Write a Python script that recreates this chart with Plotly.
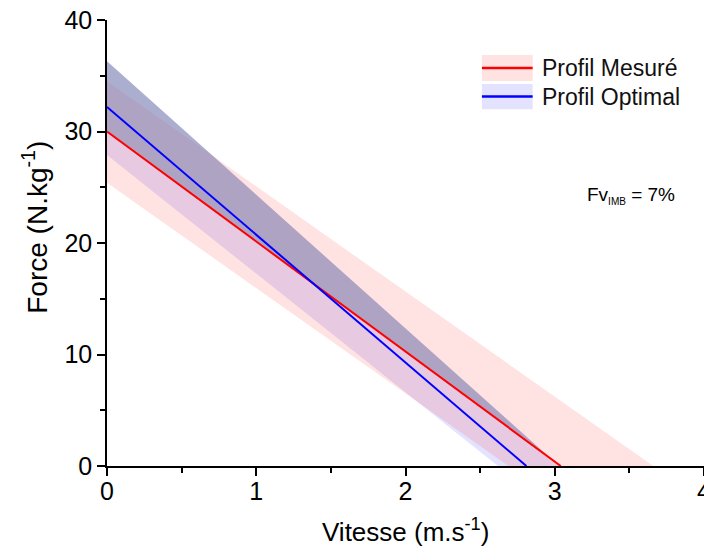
import plotly.graph_objects as go

# Profile values (intercepts)
measured_F0 = 30.0
measured_V0 = 3.04
measured_upper = [34.5, 3.66]   # [F0, V0]
measured_lower = [25.4, 2.69]

optimal_F0 = 32.2
optimal_V0 = 2.81
optimal_upper = [36.3, 3.03]
optimal_lower = [27.9, 2.62]

series_names = ["Profil Mesuré", "Profil Optimal"]
annotation_text = "Fv<sub><span style='font-size:10px'>IMB</span></sub> = 7%"
x_title = "Vitesse (m.s<sup>-1</sup>)"
y_title = "Force (N.kg<sup>-1</sup>)"

PINK = "rgba(255,60,60,0.15)"
LBLUE = "rgba(40,40,255,0.13)"

def band(up, lo):
    xs = [0, up[1], lo[1], 0, 0]
    ys = [up[0], 0, 0, lo[0], up[0]]
    return xs, ys

fig = go.Figure()

bx, by = band(optimal_upper, optimal_lower)
fig.add_trace(go.Scatter(x=bx, y=by, fill="toself", mode="none",
                         fillcolor=LBLUE, showlegend=False, hoverinfo="skip"))
rx, ry = band(measured_upper, measured_lower)
fig.add_trace(go.Scatter(x=rx, y=ry, fill="toself", mode="none",
                         fillcolor=PINK, showlegend=False, hoverinfo="skip"))
dx = [0, optimal_upper[1], measured_V0, 0, 0]
dy = [optimal_upper[0], 0, 0, measured_F0, optimal_upper[0]]
fig.add_trace(go.Scatter(x=dx, y=dy, fill="toself", mode="none",
                         fillcolor="rgba(128,132,170,0.55)", showlegend=False, hoverinfo="skip"))

fig.add_trace(go.Scatter(x=[0, measured_V0], y=[measured_F0, 0], mode="lines",
                         line=dict(color="#ff0000", width=2), showlegend=False))
fig.add_trace(go.Scatter(x=[0, optimal_V0], y=[optimal_F0, 0], mode="lines",
                         line=dict(color="#0000ff", width=2), showlegend=False))

# Hand-drawn legend (box with line through it)
legend_items = [(series_names[0], PINK, "#ff0000", 0.9215, 0.863),
                (series_names[1], LBLUE, "#0000ff", 0.8565, 0.800)]
for name, fc, lc, ytop, ybot in legend_items:
    fig.add_shape(type="rect", xref="paper", yref="paper", x0=0.628, x1=0.713,
                  y0=ybot, y1=ytop, fillcolor=fc, line=dict(width=0), layer="above")
    ym = (ytop + ybot) / 2
    fig.add_shape(type="line", xref="paper", yref="paper", x0=0.628, x1=0.713,
                  y0=ym, y1=ym, line=dict(color=lc, width=2.5), layer="above")
    fig.add_annotation(xref="paper", yref="paper", x=0.725, y=ym, text=name,
                       showarrow=False, xanchor="left", yanchor="middle",
                       font=dict(size=23, color="#111111"))

fig.add_annotation(x=3.2, y=24.3, xref="x", yref="y", text=annotation_text,
                   showarrow=False, xanchor="left", yanchor="middle",
                   font=dict(size=19, color="#000000"))

# Axis titles as annotations for precise placement
fig.add_annotation(xref="paper", yref="paper", x=0.5, y=-0.145, text=x_title,
                   showarrow=False, xanchor="center", yanchor="middle",
                   font=dict(size=26, color="#000000"))
fig.add_annotation(xref="paper", yref="paper", x=-0.12, y=0.535, text=y_title,
                   showarrow=False, xanchor="center", yanchor="middle", textangle=-90,
                   font=dict(size=28, color="#000000"))

axis_font = dict(family="Liberation Sans, Arial, sans-serif", size=25, color="#000000")
fig.update_layout(
    width=712, height=544,
    margin=dict(l=99, r=16, t=12, b=86),
    plot_bgcolor="white", paper_bgcolor="white",
    font=dict(family="Liberation Sans, Arial, sans-serif", color="#000000"),
    showlegend=False,
    xaxis=dict(range=[0, 4], dtick=1, showgrid=False, zeroline=False, automargin=False,
               showline=True, linecolor="black", linewidth=1.5,
               ticks="outside", ticklen=8, tickwidth=1.5, tickcolor="black",
               tickfont=axis_font, ticklabelstandoff=-6, ticklabeloverflow="allow",
               minor=dict(ticks="outside", ticklen=5, dtick=0.5, tickcolor="black", tickwidth=1.5)),
    yaxis=dict(range=[0, 40], dtick=10, showgrid=False, zeroline=False, automargin=False,
               showline=True, linecolor="black", linewidth=1.5,
               ticks="outside", ticklen=8, tickwidth=1.5, tickcolor="black",
               tickfont=axis_font, ticklabeloverflow="allow",
               minor=dict(ticks="outside", ticklen=5, dtick=5, tickcolor="black", tickwidth=1.5)),
)

fig.write_html("out.html")
